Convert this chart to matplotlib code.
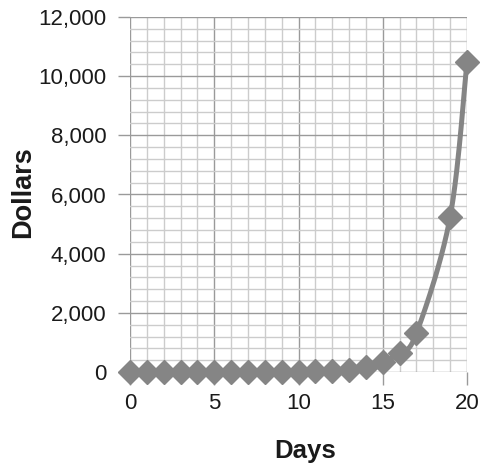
import numpy as np
import matplotlib
matplotlib.use("Agg")
import matplotlib.pyplot as plt
from matplotlib.ticker import MultipleLocator, FuncFormatter

# Doubling-penny savings by day
days = [0, 1, 2, 3, 4, 5, 6, 7, 8, 9, 10, 11, 12, 13, 14, 15, 16, 17, 19, 20]
dollars = [0.01, 0.02, 0.04, 0.08, 0.16, 0.32, 0.64, 1.28, 2.56, 5.12,
           10.24, 20.48, 40.96, 81.92, 163.84, 327.68, 655.36, 1310.72,
           5242.88, 10485.76]

x_ticks = [0, 5, 10, 15, 20]
y_ticks = [0, 2000, 4000, 6000, 8000, 10000, 12000]

plt.rcParams["font.family"] = ["Liberation Sans", "DejaVu Sans"]

fig = plt.figure(figsize=(4.82, 4.65), dpi=100)
ax = fig.add_axes([130 / 482, 1 - 372 / 465, 337 / 482, 355 / 465])


def smooth(xs, ys, n=24):
    """Catmull-Rom curve through the points (used for a smoothed line)."""
    p = np.column_stack([xs, ys]).astype(float)
    p = np.vstack([p[0], p, p[-1]])
    out = []
    for i in range(1, len(p) - 2):
        p0, p1, p2, p3 = p[i - 1], p[i], p[i + 1], p[i + 2]
        t = np.linspace(0, 1, n, endpoint=False)[:, None]
        seg = 0.5 * ((2 * p1) + (-p0 + p2) * t
                     + (2 * p0 - 5 * p1 + 4 * p2 - p3) * t ** 2
                     + (-p0 + 3 * p1 - 3 * p2 + p3) * t ** 3)
        out.append(seg)
    out.append(p[-2][None, :])
    c = np.vstack(out)
    return c[:, 0], c[:, 1]


sx, sy = smooth(days, dollars)
line_color = "#858585"
ax.plot(sx, sy, color=line_color, lw=3.6, solid_capstyle="round",
        clip_on=False, zorder=3)
ax.plot(days, dollars, linestyle="none", marker="D", markersize=12.5,
        color=line_color, markeredgecolor=line_color, markeredgewidth=1,
        clip_on=False, zorder=4)

ax.set_xlim(0, 20)
ax.set_ylim(0, 12000)
ax.set_xticks(x_ticks)
ax.set_yticks(y_ticks)
ax.xaxis.set_minor_locator(MultipleLocator(1))
ax.yaxis.set_minor_locator(MultipleLocator(400))
ax.yaxis.set_major_formatter(FuncFormatter(lambda v, _: f"{int(v):,}"))

ax.grid(which="minor", color="#cccccc", lw=1.0)
ax.grid(which="major", color="#9a9a9a", lw=1.0)
ax.set_axisbelow(True)
for s in ax.spines.values():
    s.set_visible(False)

ax.tick_params(which="major", length=9, width=1, color="#9a9a9a",
               labelsize=16, labelcolor="#1a1a1a")
ax.tick_params(axis="y", which="major", pad=8)
ax.tick_params(axis="x", which="major", pad=6)
ax.tick_params(which="minor", length=0)

fig.text(305 / 482, 1 - 451 / 465, "Days", ha="center", va="center",
         fontsize=18.5, fontweight="bold", color="#1a1a1a")
fig.text(23 / 482, 1 - 192 / 465, "Dollars", ha="center", va="center",
         rotation=90, fontsize=19.5, fontweight="bold", color="#1a1a1a")

fig.savefig("out.png", dpi=100)
